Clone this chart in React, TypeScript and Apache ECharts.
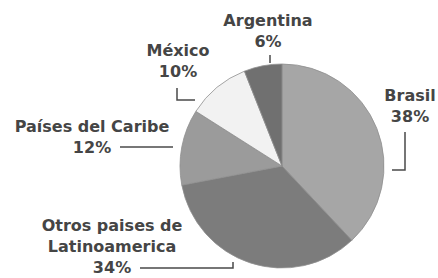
import React, { useEffect, useRef } from "react";
import * as echarts from "echarts";

const categories = ["Brasil", "Otros paises de\nLatinoamerica", "Países del Caribe", "México", "Argentina"];
const values = [38, 34, 12, 10, 6];
const colors = ["#a6a6a6", "#7c7c7c", "#9b9b9b", "#f2f2f2", "#707070"];

// label block centers and leader lines (layout only)
const labelPos: [number, number][] = [
  [410, 106],
  [112, 246],
  [92, 137],
  [178, 61],
  [268, 31],
];
const linePts: number[][][] = [
  [[392, 170], [405, 170], [405, 132]],
  [[233, 262], [233, 268], [140, 268]],
  [[173, 147], [173, 147], [120, 147]],
  [[195, 100], [177, 100], [177, 88]],
  [[270, 63], [270, 63], [270, 55]],
];

export default function App() {
  const ref = useRef<HTMLDivElement>(null);
  useEffect(() => {
    if (!ref.current) return;
    const chart = echarts.init(ref.current, null, { renderer: "svg" });
    chart.setOption({
      animation: false,
      backgroundColor: "#ffffff",
      series: [
        {
          type: "pie",
          center: [282, 166],
          radius: 102,
          startAngle: 90,
          clockwise: true,
          avoidLabelOverlap: false,
          data: categories.map((c, i) => ({
            name: c,
            value: values[i],
            itemStyle: { color: colors[i] },
          })),
          itemStyle: { borderColor: "#8f8f8f", borderWidth: 0.8 },
          label: {
            show: true,
            formatter: (p: any) => `${p.name}\n${p.value}%`,
            fontFamily: "DejaVu Sans",
            fontWeight: "bold",
            fontSize: 16,
            lineHeight: 21,
            color: "#454545",
            align: "center",
            overflow: "none",
            width: 200,
          },
          labelLine: {
            show: true,
            smooth: false,
            lineStyle: { color: "#4a4a4a", width: 1.5 },
          },
          labelLayout: (params: any) => {
            const i = params.dataIndex;
            return {
              x: labelPos[i][0],
              y: labelPos[i][1],
              align: "center",
              verticalAlign: "middle",
              labelLinePoints: linePts[i],
            };
          },
          emphasis: { disabled: true },
        },
      ],
    });
    return () => chart.dispose();
  }, []);
  return <div ref={ref} style={{ width: 438, height: 278, position: "absolute", left: 0, top: 0 }} />;
}
